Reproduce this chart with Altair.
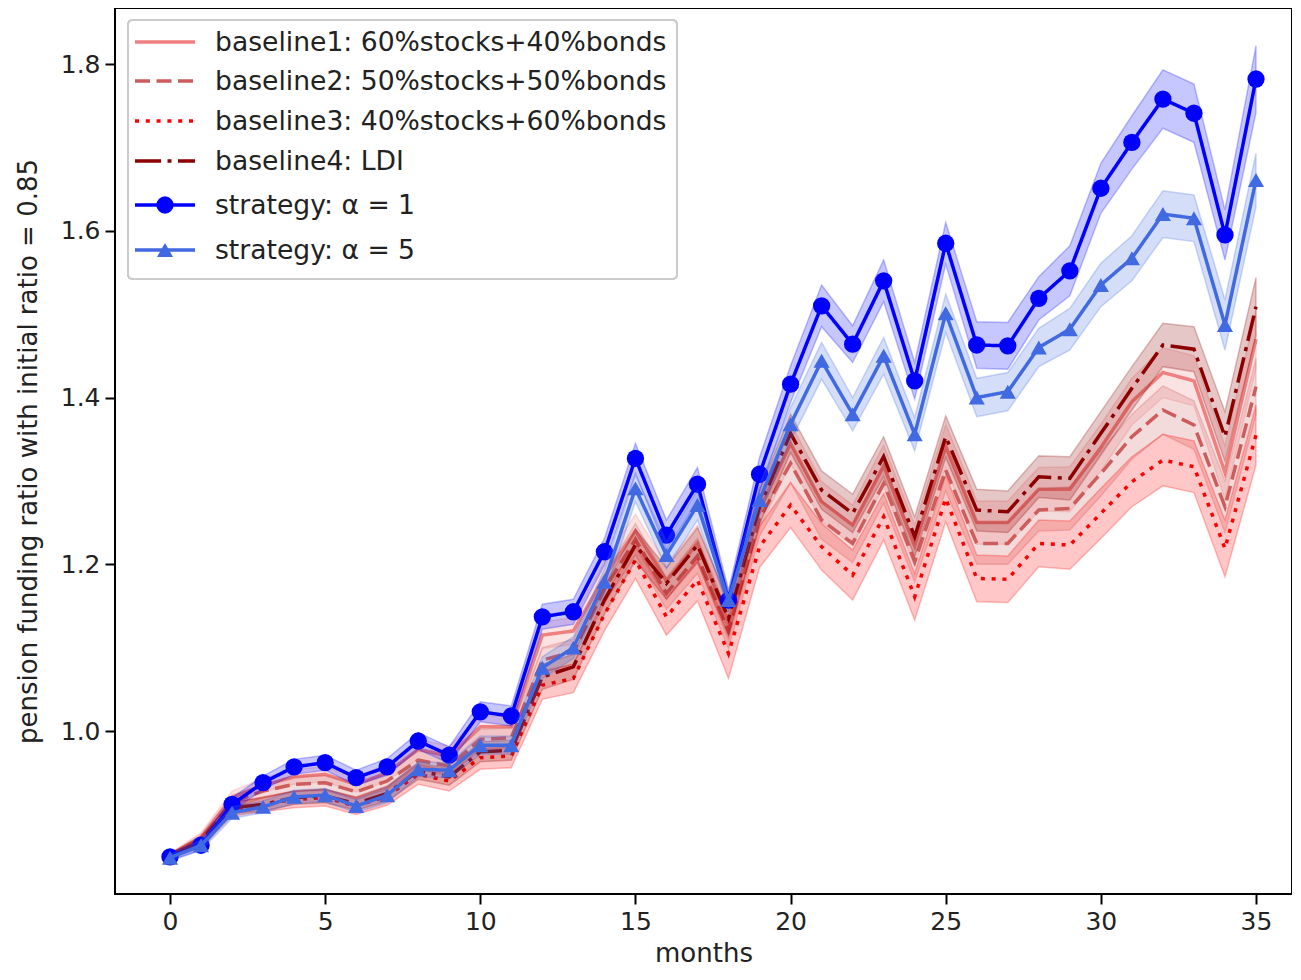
import altair as alt
import pandas as pd

months = list(range(36))

# baseline1: 60% stocks + 40% bonds (solid)
b1 = [0.850, 0.872, 0.920, 0.935, 0.945, 0.948, 0.936, 0.950, 0.978, 0.970, 1.005, 1.005,
      1.115, 1.120, 1.185, 1.240, 1.180, 1.225, 1.130, 1.265, 1.345, 1.275, 1.247, 1.318,
      1.222, 1.342, 1.250, 1.250, 1.290, 1.290, 1.340, 1.395, 1.430, 1.420, 1.310, 1.470]
# baseline2: 50/50 (dashed)
b2 = [0.850, 0.870, 0.915, 0.928, 0.936, 0.938, 0.927, 0.940, 0.965, 0.958, 0.990, 0.992,
      1.085, 1.095, 1.170, 1.230, 1.165, 1.210, 1.120, 1.255, 1.321, 1.253, 1.225, 1.297,
      1.203, 1.313, 1.225, 1.225, 1.265, 1.267, 1.309, 1.353, 1.385, 1.367, 1.269, 1.413]
# baseline3: 40/60 (dotted)
b3 = [0.850, 0.866, 0.906, 0.912, 0.918, 0.920, 0.910, 0.922, 0.948, 0.940, 0.968, 0.970,
      1.055, 1.063, 1.140, 1.205, 1.137, 1.181, 1.093, 1.221, 1.271, 1.221, 1.187, 1.257,
      1.161, 1.279, 1.183, 1.182, 1.225, 1.223, 1.261, 1.299, 1.325, 1.317, 1.219, 1.355]
# baseline4: LDI (dash-dot)
b4 = [0.850, 0.868, 0.908, 0.912, 0.920, 0.922, 0.913, 0.925, 0.952, 0.945, 0.975, 0.977,
      1.065, 1.077, 1.157, 1.223, 1.177, 1.223, 1.135, 1.269, 1.357, 1.289, 1.261, 1.329,
      1.233, 1.353, 1.265, 1.263, 1.305, 1.303, 1.357, 1.411, 1.463, 1.458, 1.353, 1.509]
# strategy alpha = 1
s1 = [0.849, 0.863, 0.912, 0.938, 0.957, 0.962, 0.944, 0.957, 0.988, 0.971, 1.023, 1.018,
      1.137, 1.143, 1.215, 1.327, 1.235, 1.296, 1.157, 1.308, 1.416, 1.510, 1.464, 1.540,
      1.420, 1.585, 1.463, 1.462, 1.519, 1.552, 1.651, 1.706, 1.758, 1.741, 1.595, 1.782]
# strategy alpha = 5
s5 = [0.848, 0.863, 0.902, 0.909, 0.921, 0.923, 0.910, 0.923, 0.954, 0.953, 0.983, 0.983,
      1.076, 1.100, 1.179, 1.291, 1.211, 1.271, 1.157, 1.277, 1.368, 1.444, 1.380, 1.450,
      1.356, 1.501, 1.400, 1.407, 1.460, 1.482, 1.535, 1.567, 1.620, 1.615, 1.487, 1.661]

# half-widths of the shaded bands
w_b1 = [0.003, 0.006, 0.008, 0.008, 0.009, 0.009, 0.009, 0.010, 0.012, 0.012, 0.013, 0.013,
        0.016, 0.016, 0.018, 0.020, 0.020, 0.022, 0.022, 0.022, 0.024, 0.024, 0.024, 0.025,
        0.025, 0.026, 0.026, 0.026, 0.026, 0.027, 0.028, 0.028, 0.030, 0.030, 0.032, 0.035]
w_b2 = [0.003, 0.006, 0.008, 0.008, 0.009, 0.009, 0.009, 0.010, 0.011, 0.011, 0.012, 0.012,
        0.015, 0.015, 0.017, 0.019, 0.019, 0.021, 0.021, 0.021, 0.023, 0.023, 0.023, 0.024,
        0.024, 0.025, 0.025, 0.025, 0.025, 0.026, 0.027, 0.027, 0.029, 0.029, 0.031, 0.034]
w_b3 = [0.003, 0.006, 0.008, 0.009, 0.010, 0.010, 0.010, 0.011, 0.012, 0.012, 0.014, 0.014,
        0.017, 0.017, 0.020, 0.022, 0.022, 0.025, 0.030, 0.025, 0.027, 0.028, 0.030, 0.028,
        0.028, 0.028, 0.028, 0.028, 0.028, 0.029, 0.030, 0.030, 0.031, 0.031, 0.034, 0.036]
w_b4 = [0.003, 0.006, 0.007, 0.008, 0.008, 0.008, 0.008, 0.009, 0.010, 0.010, 0.012, 0.012,
        0.015, 0.015, 0.017, 0.019, 0.019, 0.021, 0.021, 0.021, 0.023, 0.023, 0.023, 0.024,
        0.024, 0.025, 0.025, 0.025, 0.025, 0.026, 0.026, 0.026, 0.026, 0.027, 0.030, 0.035]
w_s1 = [0.004, 0.006, 0.008, 0.008, 0.009, 0.009, 0.009, 0.010, 0.010, 0.010, 0.012, 0.012,
        0.015, 0.015, 0.016, 0.018, 0.018, 0.020, 0.012, 0.020, 0.022, 0.025, 0.022, 0.025,
        0.022, 0.025, 0.028, 0.028, 0.026, 0.030, 0.030, 0.032, 0.035, 0.035, 0.030, 0.040]
w_s5 = [0.004, 0.006, 0.007, 0.007, 0.008, 0.008, 0.008, 0.009, 0.009, 0.009, 0.011, 0.011,
        0.013, 0.013, 0.015, 0.016, 0.016, 0.018, 0.011, 0.018, 0.020, 0.022, 0.020, 0.022,
        0.020, 0.023, 0.023, 0.023, 0.023, 0.025, 0.026, 0.027, 0.028, 0.028, 0.030, 0.032]

labels = [
    "baseline1: 60%stocks+40%bonds",
    "baseline2: 50%stocks+50%bonds",
    "baseline3: 40%stocks+60%bonds",
    "baseline4: LDI",
    "strategy: \u03b1 = 1",
    "strategy: \u03b1 = 5",
]
colors = ["#f08080", "#cd5c5c", "#ff0000", "#8b0000", "#0000ff", "#4169e1"]
dashes = [[1, 0], [15, 6.5], [4, 6.8], [26, 6.5, 4, 6.5], [1, 0], [1, 0]]
values = [b1, b2, b3, b4, s1, s5]
widths = [w_b1, w_b2, w_b3, w_b4, w_s1, w_s5]

rows = []
for lab, vals, ws in zip(labels, values, widths):
    for m, v, w in zip(months, vals, ws):
        rows.append({"series": lab, "month": m, "value": v, "lo": v - w, "hi": v + w})
df = pd.DataFrame(rows)

FONT = "DejaVu Sans"
xscale = alt.Scale(domain=[-1.7725, 36.16], nice=False, zero=False)
yscale = alt.Scale(domain=[0.8045, 1.8672], nice=False, zero=False)
xaxis = alt.Axis(values=[0, 5, 10, 15, 20, 25, 30, 35], format="d", title="months")
yaxis = alt.Axis(values=[1.0, 1.2, 1.4, 1.6, 1.8], format=".1f",
                 title="pension funding ratio with initial ratio = 0.85")

layers = []
for i, (lab, col, dash) in enumerate(zip(labels, colors, dashes)):
    base = alt.Chart(df).transform_filter(alt.datum.series == lab)
    band = base.mark_area(fill=col, fillOpacity=0.22, stroke=col, strokeOpacity=0.25,
                          strokeWidth=1.5).encode(
        x=alt.X("month:Q", scale=xscale, axis=xaxis),
        y=alt.Y("lo:Q", scale=yscale, axis=yaxis),
        y2="hi:Q",
    )
    line = base.mark_line(color=col, strokeWidth=3.5, strokeDash=dash).encode(
        x=alt.X("month:Q", scale=xscale, axis=xaxis),
        y=alt.Y("value:Q", scale=yscale, axis=yaxis),
    )
    layers += [band, line]
    if i >= 4:
        shape = "circle" if i == 4 else "triangle-up"
        pts = base.mark_point(filled=True, shape=shape, size=300 if i == 4 else 260,
                              color=col, opacity=1).encode(
            x=alt.X("month:Q", scale=xscale, axis=xaxis),
            y=alt.Y("value:Q", scale=yscale, axis=yaxis),
        )
        layers.append(pts)

# legend (drawn in plot-pixel space)
leg_rows_y = [34, 73, 113, 153, 197, 242]
legend_box = alt.Chart(df).mark_rect(fill="white", fillOpacity=0.8, stroke="#cccccc",
                                     strokeWidth=2, cornerRadius=5).encode(
    x=alt.value(13), x2=alt.value(562), y=alt.value(12), y2=alt.value(271))
layers.append(legend_box)
one = pd.DataFrame({"k": [0]})
for i, (lab, col, dash) in enumerate(zip(labels, colors, dashes)):
    yy = leg_rows_y[i]
    layers.append(alt.Chart(one).mark_rule(color=col, strokeWidth=3.5, strokeDash=dash).encode(
        x=alt.value(20), x2=alt.value(80), y=alt.value(yy)))
    if i >= 4:
        shape = "circle" if i == 4 else "triangle-up"
        layers.append(alt.Chart(one).mark_point(filled=True, shape=shape,
                                                size=300 if i == 4 else 260,
                                                color=col, opacity=1).encode(
            x=alt.value(50), y=alt.value(yy)))
    layers.append(alt.Chart(one).mark_text(align="left", baseline="middle", font=FONT,
                                           fontSize=26.6, color="#222222").encode(
        x=alt.value(100), y=alt.value(yy + 1), text=alt.value(lab)))

chart = alt.layer(*layers).properties(
    width=1177, height=886,
    autosize=alt.AutoSizeParams(type="none"),
    padding={"left": 107, "top": 0, "right": 0, "bottom": 74},
).configure_view(
    stroke="black", strokeWidth=2
).configure_axis(
    grid=False, domain=False, labelFont=FONT, titleFont=FONT, labelFontSize=25,
    titleFontSize=26, labelColor="#222222", titleColor="#222222", titleFontWeight="normal",
    tickColor="black", tickSize=10, tickWidth=2,
).configure_axisX(
    labelPadding=5, titlePadding=6
).configure_axisY(
    labelPadding=5, titlePadding=19
)

chart.save("out.html", embed_options={"renderer": "svg", "actions": False})
